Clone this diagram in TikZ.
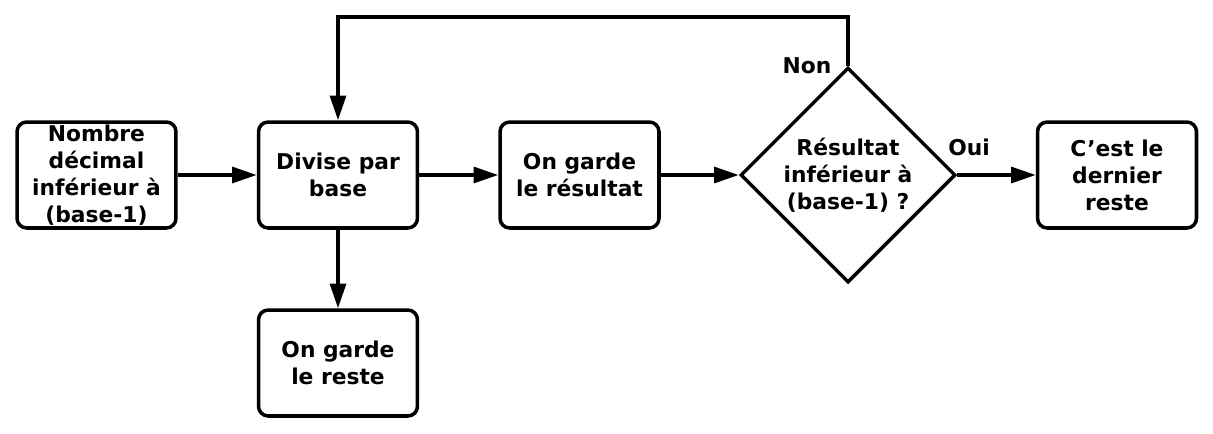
\documentclass[tikz,border=0pt]{standalone}
\usepackage{fontspec}
\setmainfont{DejaVu Sans}
\usetikzlibrary{arrows.meta,shapes.geometric}

\begin{document}
\begin{tikzpicture}[x=0.02cm, y=-0.02cm,
    boite/.style={draw, line width=2pt, rounded corners=5.5pt,
                  minimum width=3.18cm, minimum height=2.12cm, inner sep=1pt,
                  align=center, font=\bfseries\fontsize{12.4}{15.4}\selectfont},
    losange/.style={draw, diamond, line width=2pt, inner sep=0pt,
                    minimum width=4.3cm, minimum height=4.3cm,
                    align=center, font=\bfseries\fontsize{12.4}{15.4}\selectfont},
    etiq/.style={font=\bfseries\fontsize{12.4}{15.4}\selectfont},
    fleche/.style={line width=2pt, -{Triangle[length=14pt,width=9pt]}}]
  \useasboundingbox (0,0) rectangle (1213,433);

  \node[boite] (nombre) at (96.5,175) {Nombre\\décimal\\inférieur à\\(base-1)};
  \node[boite] (divise) at (338,175) {Divise par\\base};
  \node[boite] (reste) at (338,363) {On garde\\le reste};
  \node[boite] (resultat) at (579.5,175) {On garde\\le résultat};
  \node[losange] (test) at (848,175) {Résultat\\inférieur à\\(base-1) ?};
  \node[boite] (dernier) at (1117,175) {C’est le\\dernier\\reste};

  \coordinate (boucle) at (338,17);

  \draw[fleche] (nombre) -- (divise);
  \draw[fleche] (divise) -- (reste);
  \draw[fleche] (divise) -- (resultat);
  \draw[fleche] (resultat) -- (test);
  \draw[fleche] (test) -- (dernier);
  \draw[fleche] (test.north) |- (boucle) -- (divise.north);

  \node[etiq] (non) at (807,66) {Non};
  \node[etiq] (oui) at (969,147) {Oui};
\end{tikzpicture}
\end{document}
